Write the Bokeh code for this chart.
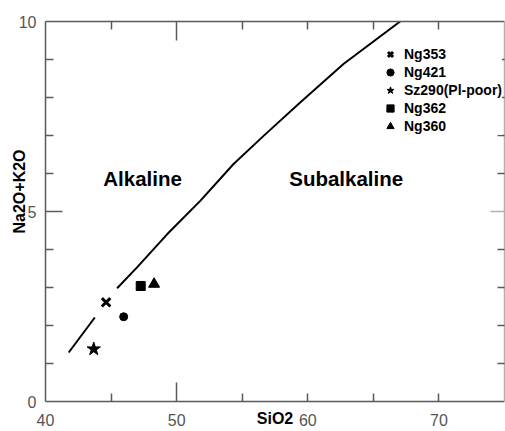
from bokeh.plotting import figure
from bokeh.models import (LinearAxis, FixedTicker, Range1d, Title, Legend,
                          LegendItem, ColumnDataSource)
from bokeh.core.properties import value
from bokeh.embed import file_html
from bokeh.resources import INLINE

# ---------------- data ----------------
x_start, x_end = 40, 75
y_start, y_end = 0, 10
x_tick_labels = [40, 50, 60, 70]
x_long_ticks = [50]
x_short_ticks = [45, 55, 60, 65, 70]
y_tick_labels = [0, 5, 10]
y_long_ticks = [5]
y_short_ticks = [1, 2, 3, 4, 6, 7, 8, 9]

# alkaline / subalkaline divide (drawn in two pieces as in the source)
divide_lower_x = [41.77, 43.76]
divide_lower_y = [1.29, 2.21]
divide_upper_x = [45.46, 46.98, 49.27, 51.8, 54.34, 56.63, 59.42, 62.72, 67.04]
divide_upper_y = [2.98, 3.53, 4.4, 5.28, 6.25, 6.99, 7.87, 8.88, 10.0]

sample_names = ["Ng353", "Ng421", "Sz290(Pl-poor)", "Ng362", "Ng360"]
sample_sio2 = [44.62, 45.96, 43.68, 47.26, 48.28]
sample_alkali = [2.61, 2.23, 1.38, 3.04, 3.09]
sample_markers = ["x", "circle", "star", "square", "triangle"]
sample_sizes = [12, 8, 14, 9, 11]

region_names = ["Alkaline", "Subalkaline"]
region_x = [47.4, 62.93]
region_y = [5.86, 5.86]

x_title = "SiO2"
y_title = "Na2O+K2O"

# ---------------- figure ----------------
FONT = "Liberation Sans"
AX_COL = "#5a5a5a"

p = figure(width=505, height=431, output_backend="svg", toolbar_location=None,
           x_range=Range1d(x_start, x_end), y_range=Range1d(y_start, y_end),
           x_axis_location=None, y_axis_location=None,
           min_border_left=45, min_border_right=1, min_border_top=21,
           min_border_bottom=30)
p.outline_line_color = None
p.background_fill_color = "white"
p.border_fill_color = "white"
p.center = [c for c in p.center if c.__class__.__name__ != "Grid"]


def tick_only_axis(ticks, length, col, line=True):
    # ticks drawn as minor ticks so that no labels are produced
    return LinearAxis(
        ticker=FixedTicker(ticks=[], minor_ticks=ticks),
        major_tick_in=0, major_tick_out=0,
        minor_tick_in=length, minor_tick_out=0,
        major_label_standoff=0,
        axis_line_color=col if line else None, axis_line_width=1.5,
        major_tick_line_color=None, minor_tick_line_color=col,
        minor_tick_line_width=1.5)


def label_axis(ticks, standoff):
    return LinearAxis(
        ticker=FixedTicker(ticks=ticks, minor_ticks=[]),
        major_tick_in=0, major_tick_out=0, minor_tick_in=0, minor_tick_out=0,
        axis_line_color=None, major_tick_line_color=None,
        minor_tick_line_color=None,
        major_label_standoff=standoff,
        major_label_text_font=FONT,
        major_label_text_font_size="16px",
        major_label_text_color="#555555")


p.add_layout(tick_only_axis(x_long_ticks, 19, AX_COL), "below")
p.add_layout(tick_only_axis(x_short_ticks, 8, AX_COL, line=False), "below")
x_lab_axis = label_axis(x_tick_labels, 12)
x_lab_axis.bounds = (40, 70.8)
x_lab_axis.axis_label = x_title
x_lab_axis.axis_label_standoff = -19
x_lab_axis.axis_label_text_font = FONT
x_lab_axis.axis_label_text_font_size = "16px"
x_lab_axis.axis_label_text_font_style = "bold"
x_lab_axis.axis_label_text_color = "black"
p.add_layout(x_lab_axis, "below")

p.add_layout(tick_only_axis(y_long_ticks, 17, AX_COL), "left")
p.add_layout(tick_only_axis(y_short_ticks, 8, AX_COL, line=False), "left")
p.add_layout(label_axis(y_tick_labels, 9), "left")

p.add_layout(tick_only_axis(x_long_ticks, 19, AX_COL), "above")
p.add_layout(tick_only_axis(x_short_ticks, 8, AX_COL, line=False), "above")

p.add_layout(tick_only_axis(y_long_ticks, 14, "#b0b0b0"), "right")
p.add_layout(tick_only_axis(y_short_ticks, 7, AX_COL, line=False), "right")

# y-axis title as a side-panel title
p.add_layout(Title(text=y_title, align="left", offset=168, standoff=-25,
                   text_font=FONT, text_font_size="16px",
                   text_font_style="bold", text_color="black"), "left")

# divide line
p.multi_line(xs=[divide_lower_x, divide_upper_x],
             ys=[divide_lower_y, divide_upper_y],
             line_color="black", line_width=2)

# samples
items = []
for name, sx, sy, mk, sz in zip(sample_names, sample_sio2, sample_alkali,
                                sample_markers, sample_sizes):
    src = ColumnDataSource(dict(x=[sx], y=[sy]))
    r = p.scatter("x", "y", source=src, marker=mk, size=sz,
                  fill_color="black", line_color="black",
                  line_width=3 if mk == "x" else 1)
    items.append(LegendItem(label=name, renderers=[r]))

legend = Legend(items=items, location=(336, 266), orientation="vertical",
                glyph_width=18, glyph_height=18, label_height=18, spacing=0,
                padding=0, margin=0, label_standoff=5,
                label_text_font=FONT, label_text_font_size="14px",
                label_text_font_style="bold", label_text_color="black",
                border_line_color=None, background_fill_color="white",
                background_fill_alpha=1.0)
p.add_layout(legend)

# region names
p.text(x=region_x, y=region_y, text=region_names,
       text_font=value(FONT), text_font_size=value("20.5px"),
       text_font_style="bold", text_align="center", text_baseline="middle",
       text_color="black")

open("out.html", "w").write(file_html(p, INLINE))
